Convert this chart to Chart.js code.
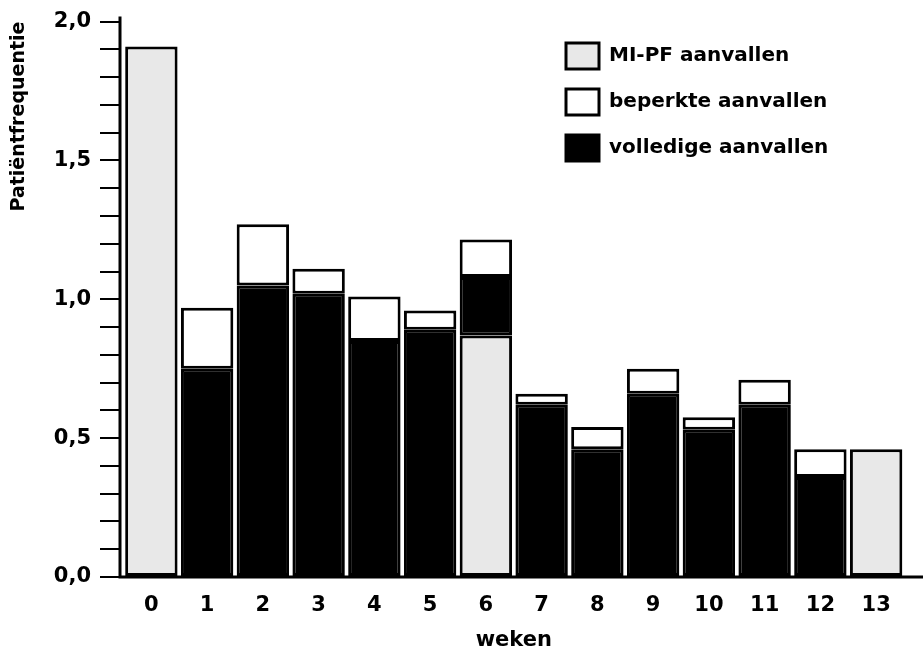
<!DOCTYPE html>
<html>
<head>
<meta charset="utf-8">
<script src="https://cdn.jsdelivr.net/npm/chart.js@4.4.1/dist/chart.umd.min.js"></script>
<style>
html,body{margin:0;padding:0;background:#ffffff;}
#wrap{width:923px;height:656px;position:relative;}
</style>
</head>
<body>
<div id="wrap"><canvas id="c" width="923" height="656"></canvas></div>
<script>
// ---- data ----
const weeks = ['0','1','2','3','4','5','6','7','8','9','10','11','12','13'];
const miPfAttacks    = [1.91, null, null, null, null, null, 0.87, null, null, null, null, null, null, 0.46];
const fullAttacks    = [null, 0.75, 1.05, 1.02, 0.85, 0.89, 0.21, 0.62, 0.46, 0.66, 0.53, 0.62, 0.36, null];
const limitedAttacks = [null, 0.22, 0.22, 0.09, 0.16, 0.07, 0.135, 0.04, 0.08, 0.09, 0.045, 0.09, 0.10, null];
const yTickLabels = ['0,0', '0,5', '1,0', '1,5', '2,0'];
const seriesNames = ['MI-PF aanvallen', 'beperkte aanvallen', 'volledige aanvallen'];
const xTitle = 'weken';
const yTitle = 'Patiëntfrequentie';

Chart.defaults.font.family = "'DejaVu Sans', 'Liberation Sans', sans-serif";
Chart.defaults.font.weight = 'bold';
Chart.defaults.color = '#000000';

const layoutTweak = {
  id: 'layoutTweak',
  afterLayout(chart) {
    const lg = chart.legend;
    if (lg) {
      const w = lg.width, h = lg.height;
      lg.left = 546; lg.top = 23;
      lg.right = lg.left + w; lg.bottom = lg.top + h;
    }
    // small gap between the y axis line and the first bar, as in the reference
    const x = chart.scales.x;
    x.left = chart.chartArea.left + 3.5;
    x.width = x.right - x.left;
    x.configure();
  }
};
const axisLines = {
  id: 'axisLines',
  afterDatasetsDraw(chart) {
    const {ctx, chartArea} = chart;
    const yb = chart.scales.y.getPixelForValue(0);
    const xl = chartArea.left;
    ctx.save();
    ctx.strokeStyle = '#000';
    ctx.lineWidth = 3;
    ctx.beginPath();
    ctx.moveTo(xl, chartArea.top - 5);
    ctx.lineTo(xl, yb + 1.5);
    ctx.moveTo(xl - 1.5, yb);
    ctx.lineTo(chart.width, yb);
    ctx.stroke();
    ctx.restore();
  }
};

const common = { borderColor: '#000000', borderWidth: 3, borderSkipped: false, barPercentage: 0.94, categoryPercentage: 1.0 };

new Chart(document.getElementById('c'), {
  type: 'bar',
  data: {
    labels: weeks,
    datasets: [
      Object.assign({ label: seriesNames[0], data: miPfAttacks, backgroundColor: '#e8e8e8' }, common),
      Object.assign({ label: seriesNames[2], data: fullAttacks, backgroundColor: '#000000' }, common),
      Object.assign({ label: seriesNames[1], data: limitedAttacks, backgroundColor: '#ffffff' }, common)
    ]
  },
  options: {
    responsive: false,
    animation: false,
    devicePixelRatio: 1,
    layout: { padding: { top: 20, right: 19, left: 0, bottom: 0 } },
    plugins: {
      tooltip: { enabled: false },
      legend: {
        position: 'chartArea',
        align: 'start',
        labels: {
          boxWidth: 33,
          boxHeight: 26,
          padding: 20,
          color: '#000',
          font: { size: 20, weight: 'bold' },
          sort: (a, b) => seriesNames.indexOf(a.text) - seriesNames.indexOf(b.text)
        }
      }
    },
    scales: {
      x: {
        stacked: true,
        offset: true,
        afterFit: s => { s.height = 79; },
        grid: { display: true, drawOnChartArea: false, drawTicks: false },
        border: { display: false },
        ticks: { color: '#000', font: { size: 21, weight: 'bold' }, padding: 16, maxRotation: 0, autoSkip: false },
        title: { display: true, text: xTitle, color: '#000', font: { size: 21, weight: 'bold' }, padding: { top: 0, bottom: 3 } }
      },
      y: {
        stacked: true,
        min: 0,
        max: 2.0,
        afterFit: s => { s.width = 120; },
        grid: { display: true, drawOnChartArea: false, drawTicks: true, tickLength: 20, color: '#000', tickColor: '#000', tickWidth: 2, lineWidth: 2 },
        border: { display: false },
        ticks: {
          stepSize: 0.1,
          autoSkip: false,
          color: '#000',
          padding: 9,
          font: { size: 21, weight: 'bold' },
          callback: (v) => {
            const k = Math.round(v * 2);
            return Math.abs(v * 2 - k) < 1e-6 ? yTickLabels[k] : '';
          }
        },
        title: { display: true, text: yTitle, align: 'end', color: '#000', font: { size: 19, weight: 'bold' }, padding: { top: 8, bottom: 0 } }
      }
    }
  },
  plugins: [layoutTweak, axisLines]
});
</script>
</body>
</html>
